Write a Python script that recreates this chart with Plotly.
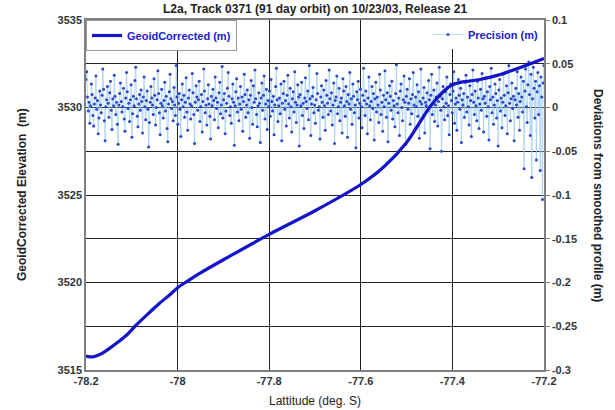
import numpy as np
import plotly.graph_objects as go

# ---- data ----
title_text = "L2a, Track 0371 (91 day orbit) on 10/23/03, Release 21"

geoid_lat = [-78.2, -78.185, -78.165, -78.148, -78.13, -78.111, -78.093, -78.067, -78.04,
             -78.017, -78.0, -77.98, -77.95, -77.9, -77.8, -77.7, -77.6, -77.55, -77.5, -77.45,
             -77.42, -77.4, -77.38, -77.34, -77.3, -77.25, -77.2]
geoid_elev = [3515.8, 3515.75, 3515.95, 3516.25, 3516.6, 3517.0, 3517.5, 3518.15, 3518.8,
              3519.3, 3519.7, 3520.05, 3520.55, 3521.3, 3522.75, 3524.1, 3525.6, 3526.6, 3528.0, 3530.0,
              3530.9, 3531.3, 3531.45, 3531.6, 3531.85, 3532.3, 3532.8]

precision_dev = [
    0.032, 0.041, 0.012, -0.004, 0.006, -0.018, 0.002, 0.027, 0.015, -0.009, -0.021, 0.004, 0.011, 0.036, -0.002, 0.008, -0.030, -0.012, 0.019, 0.003,
    -0.006, 0.014, 0.044, 0.021, -0.015, -0.038, 0.001, 0.009, 0.024, 0.005, -0.011, 0.017, 0.030, -0.003, -0.025, 0.010, 0.002, 0.037, 0.013, -0.008,
    0.006, -0.019, -0.042, 0.003, 0.016, 0.028, 0.007, -0.005, 0.001, 0.022, -0.013, -0.027, 0.011, 0.040, 0.018, -0.001, 0.005, -0.016, 0.009, 0.026,
    -0.034, -0.007, 0.013, 0.002, 0.031, 0.046, 0.010, -0.010, -0.022, 0.004, 0.015, -0.003, 0.020, 0.007, -0.029, 0.012, 0.035, 0.001, -0.014, 0.008,
    0.019, -0.002, -0.045, -0.017, 0.006, 0.024, 0.011, 0.003, -0.008, 0.033, 0.014, -0.020, 0.000, 0.009, 0.042, 0.016, -0.006, -0.031, 0.005, 0.021,
    0.002, -0.012, 0.008, 0.029, -0.004, 0.013, -0.024, -0.039, 0.004, 0.018, 0.038, 0.010, -0.001, 0.007, -0.015, 0.023, 0.003, -0.009, 0.048, 0.012,
    -0.019, 0.005, 0.016, -0.002, -0.033, 0.009, 0.027, 0.001, 0.014, -0.011, 0.006, 0.034, -0.005, -0.026, 0.011, 0.020, 0.004, -0.013, 0.002, 0.039,
    0.017, -0.008, -0.041, 0.006, 0.025, 0.012, -0.003, 0.009, 0.030, -0.016, 0.001, 0.015, -0.028, 0.007, 0.044, 0.019, -0.006, 0.003, -0.020, 0.010,
    0.026, 0.004, -0.010, -0.036, 0.013, 0.002, 0.021, 0.008, -0.014, 0.035, 0.011, -0.001, 0.006, -0.023, 0.017, 0.029, -0.007, 0.003, 0.047, -0.012,
    0.009, 0.016, -0.030, -0.004, 0.005, 0.022, 0.040, 0.013, -0.009, 0.001, -0.018, 0.010, 0.027, 0.006, -0.043, 0.002, 0.018, 0.033, -0.005, 0.011,
    -0.015, 0.004, 0.024, -0.002, 0.012, -0.027, 0.007, 0.038, 0.015, -0.011, 0.003, 0.020, -0.006, 0.009, -0.035, 0.014, 0.031, 0.000, -0.019, 0.025,
    0.006, 0.043, 0.010, -0.008, -0.022, 0.002, 0.017, 0.005, -0.040, 0.011, 0.028, -0.003, 0.014, 0.036, -0.013, 0.004, 0.021, -0.025, 0.008, 0.001,
    0.019, -0.010, 0.032, 0.007, -0.004, 0.013, -0.031, 0.003, 0.024, 0.045, 0.009, -0.016, 0.002, 0.011, -0.007, 0.027, -0.038, 0.005, 0.016, 0.030,
    -0.002, 0.008, -0.021, 0.014, 0.037, 0.004, -0.012, 0.022, 0.001, -0.028, 0.010, 0.018, -0.005, 0.041, 0.006, -0.017, 0.003, 0.026, 0.012, -0.044,
    0.015, 0.002, 0.029, -0.009, 0.005, -0.024, 0.011, 0.034, 0.007, -0.001, 0.019, -0.014, 0.048, 0.010, -0.032, 0.004, 0.013, 0.023, -0.006, 0.003,
    -0.018, 0.009, 0.039, 0.016, -0.003, 0.001, -0.036, 0.012, 0.025, 0.006, -0.011, 0.020, 0.002, -0.026, 0.031, 0.014, 0.005, -0.008, 0.043, 0.010,
    -0.004, 0.017, -0.020, 0.003, 0.028, -0.041, 0.008, 0.012, 0.036, -0.007, 0.001, 0.022, -0.015, 0.006, 0.011, -0.029, 0.033, 0.019, 0.002, -0.010,
    0.024, 0.007, -0.034, 0.015, 0.004, 0.040, -0.002, 0.010, -0.019, 0.027, 0.013, -0.006, 0.003, -0.046, 0.018, 0.009, 0.030, -0.012, 0.005, 0.021,
    0.001, -0.023, 0.014, 0.045, 0.008, -0.009, 0.019, 0.004, -0.030, 0.011, 0.035, 0.002, -0.014, 0.007, 0.024, -0.001, 0.016, -0.037, 0.010, 0.029,
    -0.005, 0.012, 0.003, -0.017, 0.038, 0.020, -0.008, 0.006, -0.027, 0.014, 0.001, 0.042, 0.009, -0.011, 0.017, -0.039, 0.005, 0.025, 0.013, -0.003,
    0.030, -0.013, 0.008, 0.002, -0.022, 0.016, 0.049, 0.004, -0.006, 0.011, -0.032, 0.019, 0.027, 0.000, -0.015, 0.009, 0.036, 0.006, -0.042, 0.013,
    0.021, -0.002, 0.005, 0.033, -0.019, 0.010, -0.007, 0.015, 0.040, 0.003, -0.025, 0.012, 0.001, 0.026, -0.010, 0.018, -0.035, 0.007, 0.044, 0.004,
    -0.012, 0.011, 0.023, -0.029, 0.006, 0.002, 0.017, -0.004, 0.031, 0.009, -0.047, 0.014, 0.038, -0.008, 0.005, 0.020, -0.016, 0.003, 0.012, 0.028,
    -0.021, 0.007, 0.046, 0.013, -0.003, -0.050, 0.010, 0.024, 0.001, -0.014, 0.018, 0.005, 0.035, -0.009, 0.002, -0.031, 0.015, 0.027, 0.008, -0.006,
    0.019, 0.041, -0.018, 0.004, 0.011, -0.026, 0.006, 0.032, 0.014, -0.002, 0.022, -0.040, 0.009, 0.003, 0.016, -0.011, 0.029, 0.037, -0.005, 0.012,
    0.001, -0.020, 0.025, 0.008, -0.033, 0.015, 0.043, 0.006, -0.008, 0.019, 0.002, -0.015, 0.030, 0.011, -0.024, 0.004, 0.021, -0.003, 0.039, 0.010,
    -0.028, 0.013, 0.005, 0.034, -0.010, 0.018, 0.001, -0.037, 0.024, 0.009, 0.045, -0.006, 0.012, -0.019, 0.003, 0.027, 0.016, -0.012, 0.008, -0.044,
    0.020, 0.032, -0.004, 0.011, -0.023, 0.006, 0.038, 0.014, -0.009, 0.002, 0.025, -0.030, 0.017, 0.048, 0.005, -0.015, 0.010, 0.028, -0.001, 0.013,
    -0.038, 0.009, 0.022, 0.003, 0.041, -0.011, 0.016, -0.026, 0.007, 0.035, 0.012, -0.005, 0.030, -0.070, 0.019, 0.044, 0.001, -0.017, 0.026, 0.052,
    0.015, -0.032, 0.038, -0.080, 0.010, 0.046, 0.022, -0.012, 0.030, -0.060, 0.018, 0.040, -0.008, 0.025, -0.072, 0.035, 0.012, -0.105, 0.028, 0.048,
]

x_tick_vals = [-78.2, -78.0, -77.8, -77.6, -77.4, -77.2]
x_tick_text = ["-78.2", "-78", "-77.8", "-77.6", "-77.4", "-77.2"]
left_tick_vals = [3515, 3520, 3525, 3530, 3535]
left_tick_text = ["3515", "3520", "3525", "3530", "3535"]
right_tick_vals = [-0.3, -0.25, -0.2, -0.15, -0.1, -0.05, 0, 0.05, 0.1]
right_tick_text = ["-0.3", "-0.25", "-0.2", "-0.15", "-0.1", "-0.05", "0", "0.05", "0.1"]

precision_lat = np.linspace(-78.2, -77.2, len(precision_dev))

FONT = "Liberation Sans"
TICKCOL = "#333333"

fig = go.Figure()

fig.add_trace(go.Scatter(
    x=precision_lat, y=precision_dev, yaxis="y", name="Precision (m)",
    mode="lines+markers",
    line=dict(color="#9cc8f2", width=0.7),
    marker=dict(color="#2846c8", size=3),
    legend="legend2",
))

fig.add_trace(go.Scatter(
    x=geoid_lat, y=geoid_elev, yaxis="y2", name="GeoidCorrected (m)",
    mode="lines", line=dict(color="#1414c8", width=3.2, shape="spline", smoothing=0.8),
    legend="legend",
))

fig.update_layout(
    width=615, height=410,
    margin=dict(l=86, r=71, t=20, b=40),
    paper_bgcolor="white", plot_bgcolor="white",
    font=dict(family=FONT, size=11, color=TICKCOL),
    xaxis=dict(
        range=[-78.2, -77.2], tickvals=x_tick_vals, ticktext=x_tick_text,
        showgrid=True, gridcolor="#222222", gridwidth=1,
        showline=True, linecolor="#808080", linewidth=1.5, mirror=True,
        ticks="", zeroline=False,
        tickfont=dict(family=FONT, size=11, color=TICKCOL, weight="bold"),
    ),
    yaxis=dict(
        range=[-0.3, 0.1], tickvals=right_tick_vals, ticktext=right_tick_text,
        side="right", showgrid=True, gridcolor="#222222", gridwidth=1,
        showline=True, linecolor="#808080", linewidth=1.5,
        ticks="outside", ticklen=4, tickcolor="#808080", zeroline=False,
        tickfont=dict(family=FONT, size=11, color=TICKCOL, weight="bold"),
    ),
    yaxis2=dict(
        range=[3515, 3535], tickvals=left_tick_vals, ticktext=left_tick_text,
        side="left", overlaying="y", showgrid=False,
        showline=True, linecolor="#808080", linewidth=1.5,
        ticks="", zeroline=False,
        tickfont=dict(family=FONT, size=11, color=TICKCOL, weight="bold"),
    ),
    legend=dict(
        x=0, y=1, xanchor="left", yanchor="top",
        bgcolor="white", bordercolor="#999999", borderwidth=1,
        font=dict(family=FONT, size=11, color="#2020d0", weight="bold"),
        itemwidth=30,
    ),
    legend2=dict(
        x=1, y=1, xanchor="right", yanchor="top",
        bgcolor="white", borderwidth=0,
        font=dict(family=FONT, size=11, color="#2020d0", weight="bold"),
        itemwidth=30,
    ),
    showlegend=True,
    annotations=[
        dict(text=title_text, xref="paper", yref="paper", x=0.5, y=1,
             yshift=20, yanchor="top", showarrow=False,
             font=dict(family=FONT, size=12, color="#222222", weight="bold")),
        dict(text="Lattitude (deg. S)", xref="paper", yref="paper", x=0.5, y=0,
             yshift=-22, yanchor="top", showarrow=False,
             font=dict(family=FONT, size=12, color="#222222")),
        dict(text="GeoidCorrected Elevation  (m)", xref="paper", yref="paper",
             x=0, xshift=-64, y=0.5, textangle=-90, showarrow=False,
             xanchor="center", yanchor="middle",
             font=dict(family=FONT, size=12, color="#222222", weight="bold")),
        dict(text="Deviations from smoothed profile (m)", xref="paper", yref="paper",
             x=1, xshift=54, y=0.5, textangle=90, showarrow=False,
             xanchor="center", yanchor="middle",
             font=dict(family=FONT, size=12, color="#222222", weight="bold")),
    ],
)

fig.write_html("out.html")
